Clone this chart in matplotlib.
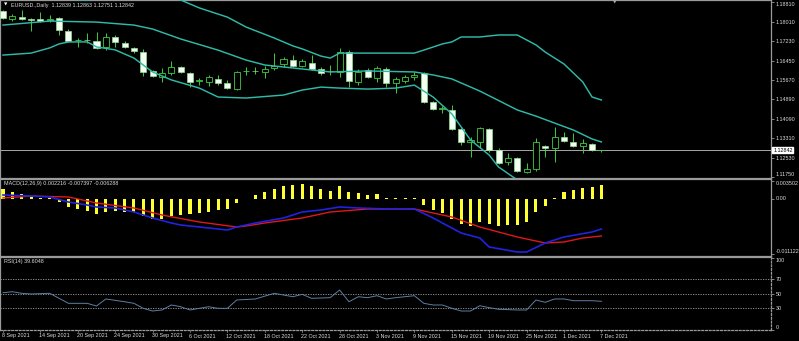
import numpy as np
import matplotlib
matplotlib.use("Agg")
import matplotlib.pyplot as plt
import matplotlib.transforms as mtransforms

plt.rcParams['font.family'] = ['Liberation Sans', 'DejaVu Sans']

# ------------------------------------------
# Data (EURUSD daily)
# ------------------------------------------
opens = [1.1845, 1.1812, 1.1821, 1.1812, 1.1812, 1.1808, 1.1817, 1.1764, 1.1726, 1.1728,
         1.1724, 1.1700, 1.1740, 1.1716, 1.1696, 1.1679, 1.1603, 1.1579, 1.1595, 1.1619,
         1.1595, 1.1563, 1.1559, 1.1571, 1.1555, 1.1530, 1.1601, 1.1603, 1.1599, 1.1615,
         1.1631, 1.1647, 1.1623, 1.1635, 1.1611, 1.1601, 1.1599, 1.1679, 1.1559, 1.1607,
         1.1575, 1.1611, 1.1555, 1.1563, 1.1579, 1.1595, 1.1478, 1.1450, 1.1446, 1.1369,
         1.1317, 1.1317, 1.1369, 1.1285, 1.1236, 1.1252, 1.1196, 1.1208, 1.1301, 1.1293,
         1.1337, 1.1317, 1.1301, 1.1309, 1.12839]
highs = [1.1849, 1.1833, 1.1849, 1.1817, 1.1841, 1.1829, 1.1821, 1.1772, 1.1736, 1.1756,
         1.1760, 1.1756, 1.1748, 1.1724, 1.1700, 1.1692, 1.1607, 1.1615, 1.1643, 1.1623,
         1.1599, 1.1575, 1.1587, 1.1587, 1.1567, 1.1603, 1.1619, 1.1619, 1.1623, 1.1675,
         1.1659, 1.1667, 1.1651, 1.1667, 1.1619, 1.1627, 1.1696, 1.1688, 1.1611, 1.1615,
         1.1623, 1.1619, 1.1579, 1.1587, 1.1599, 1.1599, 1.1482, 1.1462, 1.1466, 1.1373,
         1.1337, 1.1377, 1.1373, 1.1293, 1.1273, 1.1256, 1.1232, 1.1333, 1.1305, 1.1377,
         1.1357, 1.1353, 1.1329, 1.1313, 1.12863]
lows = [1.1812, 1.1804, 1.1808, 1.1764, 1.1800, 1.1800, 1.1748, 1.1720, 1.1700, 1.1716,
        1.1692, 1.1688, 1.1700, 1.1696, 1.1675, 1.1583, 1.1579, 1.1559, 1.1587, 1.1595,
        1.1539, 1.1547, 1.1543, 1.1547, 1.1530, 1.1527, 1.1587, 1.1591, 1.1575, 1.1607,
        1.1619, 1.1619, 1.1619, 1.1607, 1.1587, 1.1587, 1.1579, 1.1539, 1.1547, 1.1575,
        1.1559, 1.1539, 1.1514, 1.1555, 1.1567, 1.1474, 1.1446, 1.1434, 1.1365, 1.1305,
        1.1256, 1.1293, 1.1277, 1.1228, 1.1224, 1.1196, 1.1192, 1.1200, 1.1256, 1.1236,
        1.1317, 1.1297, 1.1273, 1.1281, 1.12751]
closes = [1.1817, 1.1825, 1.1812, 1.1810, 1.1804, 1.1812, 1.1768, 1.1724, 1.1728, 1.1726,
          1.1696, 1.1740, 1.1720, 1.1700, 1.1684, 1.1599, 1.1583, 1.1595, 1.1619, 1.1599,
          1.1559, 1.1565, 1.1579, 1.1555, 1.1535, 1.1599, 1.1603, 1.1601, 1.1611, 1.1623,
          1.1651, 1.1623, 1.1643, 1.1611, 1.1595, 1.1603, 1.1679, 1.1563, 1.1599, 1.1579,
          1.1615, 1.1555, 1.1571, 1.1579, 1.1587, 1.1478, 1.1450, 1.1452, 1.1369, 1.1317,
          1.1325, 1.1373, 1.1285, 1.1232, 1.1252, 1.1200, 1.1208, 1.1317, 1.1293, 1.1337,
          1.1321, 1.1301, 1.1313, 1.1285, 1.12842]

# Bollinger bands (sparse readings, bar index -> price)
upper_idx = [0, 4, 7, 9, 12, 14, 16, 18, 19, 21, 24, 26, 29, 31, 32, 34, 35, 36, 44, 45,
             47, 48, 49, 51, 53, 55, 57, 58, 60, 62, 63, 64]
upper = [1.1913, 1.1913, 1.1893, 1.1889, 1.1905, 1.1929, 1.1945, 1.1905, 1.1889, 1.1857,
         1.1820, 1.1780, 1.1736, 1.1704, 1.1692, 1.1663, 1.1655, 1.1675, 1.1675, 1.1687,
         1.1712, 1.1720, 1.1740, 1.1740, 1.1748, 1.1748, 1.1708, 1.1679, 1.1631, 1.1559,
         1.1498, 1.1486]
mid_idx = [0, 5, 10, 14, 16, 19, 23, 26, 28, 30, 32, 35, 39, 44, 46, 48, 51, 55, 57, 59,
           61, 63, 64]
middle = [1.1788, 1.1804, 1.1800, 1.1788, 1.1772, 1.1732, 1.1687, 1.1647, 1.1627, 1.1619,
          1.1611, 1.1599, 1.1603, 1.1599, 1.1587, 1.1571, 1.1522, 1.1446, 1.1421, 1.1393,
          1.1365, 1.1329, 1.1317]
low_idx = [0, 3, 5, 6, 7, 9, 10, 12, 14, 16, 18, 21, 23, 26, 30, 32, 34, 36, 39, 42,
           44, 46, 48, 50, 52, 53, 55, 57, 60, 64]
lower = [1.1667, 1.1675, 1.1696, 1.1712, 1.1720, 1.1720, 1.1700, 1.1688, 1.1655, 1.1599,
         1.1567, 1.1534, 1.1498, 1.1494, 1.1506, 1.1526, 1.1538, 1.1534, 1.1530, 1.1534,
         1.1546, 1.1498, 1.1430, 1.1325, 1.1264, 1.1216, 1.1164, 1.1115, 1.1063, 1.1010]

last_price = 1.12842

# MACD histogram, one per bar
macd_hist = [0.0020, 0.0014, 0.0010, 0.0006, 0.0002, 0.0001, -0.0006, -0.0016, -0.0020, -0.0024,
             -0.0030, -0.0026, -0.0024, -0.0026, -0.0026, -0.0034, -0.0040, -0.0040, -0.0034, -0.0032,
             -0.0030, -0.0028, -0.0026, -0.0022, -0.0020, -0.0008, -0.0001, 0.0008, 0.0014, 0.0020,
             0.0026, 0.0028, 0.0030, 0.0026, 0.0020, 0.0016, 0.0026, 0.0014, 0.0012, 0.0008,
             0.0010, 0.0002, 0.0001, 0.0001, 0.0002, -0.0012, -0.0022, -0.0028, -0.0040, -0.0050,
             -0.0054, -0.0046, -0.0050, -0.0054, -0.0052, -0.0052, -0.0046, -0.0026, -0.0014, 0.0002,
             0.0014, 0.0018, 0.0022, 0.0024, 0.0028]
blue_idx = [0, 3, 5, 7, 9, 10, 12, 14, 16, 18, 19, 21, 24, 25, 27, 30, 32, 34, 36, 38,
            41, 44, 46, 49, 51, 52, 55, 56, 58, 60, 63, 64]
macd_blue = [0.0007, 0.0005, 0.0003, -0.0007, -0.0013, -0.0017, -0.0019, -0.0027, -0.0039, -0.0049,
             -0.0053, -0.0057, -0.0063, -0.0057, -0.0049, -0.0039, -0.0027, -0.0023, -0.0017, -0.0019,
             -0.0021, -0.0021, -0.0039, -0.0069, -0.0079, -0.0097, -0.0107, -0.0107, -0.0089, -0.0077,
             -0.0067, -0.0061]
red_idx = [0, 3, 7, 10, 14, 17, 21, 25, 26, 28, 32, 35, 39, 44, 48, 51, 55, 58, 60, 62, 64]
macd_red = [0.0001, 0.0005, 0.0003, -0.0009, -0.0019, -0.0033, -0.0047, -0.0057, -0.0055, -0.0049,
            -0.0039, -0.0027, -0.0021, -0.0021, -0.0037, -0.0057, -0.0077, -0.0089, -0.0087, -0.0079,
            -0.0075]

# RSI(14)
rsi_idx = [0, 1, 2, 3, 5, 7, 9, 10, 11, 13, 14, 15, 16, 17, 18, 19, 20, 21, 22, 23,
           24, 25, 27, 29, 31, 32, 33, 35, 36, 37, 38, 39, 40, 41, 42, 44, 45, 46, 47, 48,
           49, 50, 51, 52, 53, 55, 56, 57, 58, 59, 60, 61, 63, 64]
rsi = [51.4, 52.8, 50.6, 49.7, 50.6, 36.8, 36.8, 33.1, 42.8, 39.0, 36.8, 29.9, 26.2, 27.6, 34.5,
       32.1, 27.6, 29.9, 32.1, 29.9, 29.9, 41.4, 42.8, 50.6, 45.9, 49.2, 43.7, 44.6, 55.2, 39.0,
       45.9, 44.6, 47.3, 42.8, 44.6, 47.3, 36.8, 34.5, 34.5, 29.9, 26.2, 26.2, 33.5, 30.8, 28.6,
       27.6, 27.6, 41.4, 38.2, 42.8, 42.8, 40.4, 40.4, 39.6]

price_ticks = [1.18810, 1.18010, 1.17230, 1.16450, 1.15670, 1.14890, 1.14090, 1.13310, 1.12530, 1.11750]
macd_ticks = [0.003502, 0.0, -0.011122]
macd_tick_labels = ["0.003502", "0.00", "-0.011122"]
rsi_ticks = [100, 70, 50, 30, 0]
rsi_levels = [70, 50, 30]

date_idx = list(range(0, 65, 4))
date_labels = ["8 Sep 2021", "14 Sep 2021", "20 Sep 2021", "24 Sep 2021", "30 Sep 2021",
               "6 Oct 2021", "12 Oct 2021", "18 Oct 2021", "22 Oct 2021", "28 Oct 2021",
               "3 Nov 2021", "9 Nov 2021", "15 Nov 2021", "19 Nov 2021", "25 Nov 2021",
               "1 Dec 2021", "7 Dec 2021"]

# ------------------------------------------
# Layout (pixel based, MT4 look)
# ------------------------------------------
W, H = 799, 341
fig = plt.figure(figsize=(W / 100, H / 100), dpi=100, facecolor='black')

GREY = '#9a9a9a'
TXT = '#dcdcdc'
GREEN = '#3ccf3c'
BAND = '#2fb9a9'
FS = 3.9


def px_axes(x0, y0, x1, y1):
    ax = fig.add_axes([x0 / W, 1 - y1 / H, (x1 - x0) / W, (y1 - y0) / H])
    ax.set_facecolor('black')
    for s in ax.spines.values():
        s.set_color(GREY)
        s.set_linewidth(0.9)
    ax.tick_params(axis='x', bottom=False, labelbottom=False)
    ax.yaxis.tick_right()
    ax.tick_params(axis='y', colors=GREY, labelcolor=TXT, labelsize=FS,
                   length=2, width=0.6, pad=1.2)
    return ax


bar_px = 9.35
xlim = (-3 / bar_px, (771 - 3) / bar_px)

ax_p = px_axes(0, 0, 771, 178)
ax_m = px_axes(0, 179, 771, 256)
ax_r = px_axes(0, 257, 771, 330)
for ax in (ax_p, ax_m, ax_r):
    ax.set_xlim(*xlim)

# ---------------- price panel ----------------
ax_p.set_ylim(1.1889 - 0.000403 * 178, 1.1889)
x = np.arange(len(closes))
o = np.array(opens)
c = np.array(closes)
ax_p.vlines(x, lows, highs, color=GREEN, linewidth=0.7, zorder=2)
body_low = np.minimum(o, c)
body_h = np.maximum(np.abs(c - o), 0.00003)
up = c >= o
ax_p.bar(x[up], body_h[up], bottom=body_low[up], width=0.65,
         color='black', edgecolor=GREEN, linewidth=0.6, zorder=3)
ax_p.bar(x[~up], body_h[~up], bottom=body_low[~up], width=0.65,
         color='#f2fff2', edgecolor='#8fe08f', linewidth=0.5, zorder=3)

for bi, bv in ((upper_idx, upper), (mid_idx, middle), (low_idx, lower)):
    ax_p.plot(bi, bv, color=BAND, linewidth=1.05, zorder=4)

ax_p.axhline(last_price, color='#a8a8a8', linewidth=0.7, zorder=1)

ax_p.set_yticks(price_ticks)
ax_p.set_yticklabels(["%.5f" % t for t in price_ticks])
ax_p.annotate("%.5f" % last_price, xy=(1, last_price), xycoords=('axes fraction', 'data'),
              xytext=(1.5, 0), textcoords='offset points', va='center', ha='left',
              fontsize=FS, color='black',
              bbox=dict(boxstyle='square,pad=0.15', fc='white', ec='white'))

ax_p.text(4 / 771, 1 - 5 / 178, "\u25bc", transform=ax_p.transAxes, color='white',
          fontsize=3.2, va='center', ha='left', family=['DejaVu Sans'])
ax_p.text(11 / 771, 1 - 5.5 / 178, "EURUSD.,Daily  1.12839 1.12863 1.12751 1.12842",
          transform=ax_p.transAxes, color=TXT, fontsize=FS, va='center', ha='left')
ax_p.text(615 / 771, 1.0, "\u25bc", transform=ax_p.transAxes, color='#b0b0b0',
          fontsize=3.2, va='top', ha='center', family=['DejaVu Sans'])

# ---------------- MACD panel ----------------
ax_m.set_ylim((198.5 - 256) * 0.0002, (198.5 - 179) * 0.0002)
ax_m.bar(x, macd_hist, width=0.33, color='#ffff33', zorder=2)
ax_m.plot(red_idx, macd_red, color='#e01818', linewidth=1.0, zorder=3)
ax_m.plot(blue_idx, macd_blue, color='#2222e0', linewidth=1.2, zorder=4)
ax_m.set_yticks(macd_ticks)
ax_m.set_yticklabels(macd_tick_labels)
ax_m.text(4 / 771, 1 - 5 / 77, "MACD(12,26,9) 0.002216 -0.007397 -0.006288",
          transform=ax_m.transAxes, color=TXT, fontsize=FS, va='center', ha='left')

# ---------------- RSI panel ----------------
ax_r.set_ylim(0, 73 / 0.725)
for lv in rsi_levels:
    ax_r.axhline(lv, color='#a0a0a0', linewidth=0.6, linestyle=(0, (1.5, 1.5)), zorder=1)
ax_r.plot(rsi_idx, rsi, color='#5d7fa3', linewidth=0.7, zorder=3)
ax_r.spines['bottom'].set_linestyle((0, (1.5, 1.5)))
ax_r.spines['right'].set_linestyle((0, (1.5, 1.5)))
ax_r.set_yticks(rsi_ticks)
ax_r.set_yticklabels([str(t) for t in rsi_ticks])
ax_r.text(4 / 771, 1 - 5 / 73, "RSI(14) 39.6048", transform=ax_r.transAxes,
          color=TXT, fontsize=FS, va='center', ha='left')

# keep end labels inside their panels, like MT4 does
def pin_edges(ax):
    labels = ax.get_yticklabels()
    ticks = ax.get_yticks()
    lo, hi = ax.get_ylim()
    for lab, t in zip(labels, ticks):
        if abs(t - hi) / (hi - lo) < 0.05:
            lab.set_va('top')
        elif abs(t - lo) / (hi - lo) < 0.05:
            lab.set_va('bottom')


for ax in (ax_p, ax_m, ax_r):
    pin_edges(ax)

# date labels under the RSI panel
trans = mtransforms.blended_transform_factory(ax_r.transData, ax_r.transAxes)
for di, dl in zip(date_idx, date_labels):
    ax_r.text(di - 0.1, -6 / 73, dl, transform=trans, color=TXT, fontsize=FS,
              va='center', ha='left', clip_on=False)
    ax_r.plot([di, di], [0, -2 / 73], transform=trans, color=GREY, linewidth=0.5,
              clip_on=False)

fig.savefig("out.png", dpi=100, facecolor='black')
